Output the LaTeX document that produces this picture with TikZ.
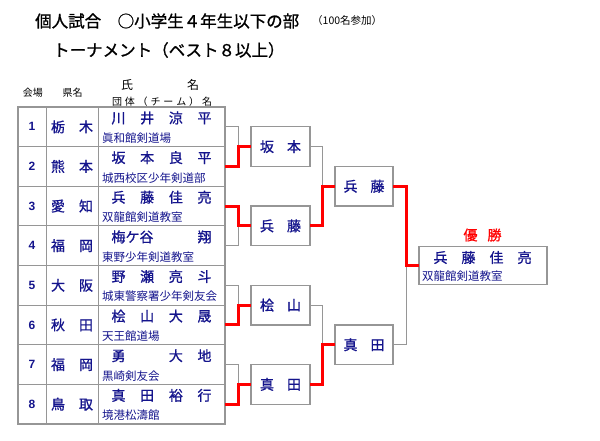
\documentclass[tikz,border=0pt]{standalone}
\usepackage{fontspec}
\setmainfont{Liberation Serif}
\newfontfamily\jp{Noto Sans CJK JP}
\newfontfamily\jpb[FakeBold=1]{Noto Sans CJK JP}
\newfontfamily\numf{Liberation Sans}
\definecolor{navy}{RGB}{20,20,140}
\definecolor{lg}{RGB}{150,150,150}
\definecolor{wred}{RGB}{255,0,0}
\newcommand\tblrow[6]{%
  \node[cell, minimum width=28pt] (c#1) at (18,#2) {};
  \node[cell, minimum width=52pt] (p#1) at (46,#2) {};
  \node[cell, minimum width=127pt] (n#1) at (98,#2) {};
  \node[numtxt] (k#1) at (c#1.center) {#1};
  \node[nmtxt] (pf#1) at (p#1.center) {\makebox[42pt]{#3\hfill #4}};
  \node[nmtxt] (nn#1) at (161.5,#2+11) {\makebox[100pt]{#5}};
  \node[tmtxt] (tt#1) at (102,#2+31) {#6};
}
\begin{document}
\begin{tikzpicture}[x=1pt,y=-1pt,
  cell/.style={draw=lg, line width=1pt, minimum height=39.625pt, inner sep=0pt, outer sep=0pt, anchor=north west},
  numtxt/.style={font=\numf\bfseries\fontsize{12}{12}\selectfont, text=navy, inner sep=0pt},
  nmtxt/.style={font=\jpb\fontsize{14}{14}\selectfont, text=navy, inner sep=0pt},
  tmtxt/.style={font=\jp\fontsize{11.5}{11.5}\selectfont, text=navy, inner sep=0pt, anchor=west},
  hdtxt/.style={font=\jp\fontsize{10}{10}\selectfont, inner sep=0pt},
  titletxt/.style={font=\jpb\fontsize{16.5}{16.5}\selectfont, inner sep=0pt, anchor=west},
  rbox/.style={draw=lg, line width=1.2pt, minimum width=59pt, minimum height=39.625pt, inner sep=0pt, outer sep=0pt},
  lose/.style={draw=lg, line width=1pt},
  win/.style={draw=wred, line width=3pt},
]
\useasboundingbox (0,0) rectangle (600,440);

% titles
\node[titletxt] (t1) at (35,21) {個人試合　○小学生４年生以下の部};
\node[font=\jp\fontsize{10.5}{10.5}\selectfont, inner sep=0pt, anchor=west] (t1b) at (312,21) {（100名参加）};
\node[titletxt] (t2) at (53,50) {トーナメント（ベスト８以上）};

% header
\node[hdtxt] (h1) at (33,93) {会場};
\node[hdtxt] (h2) at (72.5,93) {県名};
\node[font=\jp\fontsize{12}{12}\selectfont, inner sep=0pt] (h3) at (160,85) {\makebox[78pt]{氏\hfill 名}};
\node[hdtxt] (h4) at (162,101.5) {\makebox[100pt]{団\hfill 体\hfill （\hfill チ\hfill ー\hfill ム\hfill ）\hfill 名}};

% table
\tblrow{1}{107}{栃}{木}{川\hfill 井\hfill 涼\hfill 平}{眞和館剣道場}
\tblrow{2}{146.625}{熊}{本}{坂\hfill 本\hfill 良\hfill 平}{城西校区少年剣道部}
\tblrow{3}{186.25}{愛}{知}{兵\hfill 藤\hfill 佳\hfill 亮}{双龍館剣道教室}
\tblrow{4}{225.875}{福}{岡}{梅ケ谷\hfill 翔}{東野少年剣道教室}
\tblrow{5}{265.5}{大}{阪}{野\hfill 瀬\hfill 亮\hfill 斗}{城東警察署少年剣友会}
\tblrow{6}{305.125}{秋}{田}{桧\hfill 山\hfill 大\hfill 晟}{天王館道場}
\tblrow{7}{344.75}{福}{岡}{勇\hfill\hphantom{大}\hfill 大\hfill 地}{黒崎剣友会}
\tblrow{8}{384.375}{鳥}{取}{真\hfill 田\hfill 裕\hfill 行}{境港松濤館}
\draw[draw=lg, line width=1.6pt] (c1.north west) rectangle (n8.south east);

% round boxes
\node[rbox] (b1) at (280.5,146.625) {};
\node[rbox] (b2) at (280.5,225.875) {};
\node[rbox] (b3) at (280.5,305.125) {};
\node[rbox] (b4) at (280.5,384.375) {};
\node[rbox, minimum width=58pt] (s1) at (364,186.25) {};
\node[rbox, minimum width=58pt] (s2) at (364,344.75) {};
\node[rbox, minimum width=128pt, minimum height=38pt] (f) at (483,265.5) {};

% connectors: losers
\draw[lose] (n1.east) -- ++(13,0) |- (b1.west);
\draw[lose] (n4.east) -- ++(13,0) |- (b2.west);
\draw[lose] (n5.east) -- ++(13,0) |- (b3.west);
\draw[lose] (n7.east) -- ++(13,0) |- (b4.west);
\draw[lose] (b1.east) -- ++(12,0) |- (s1.west);
\draw[lose] (b3.east) -- ++(12,0) |- (s2.west);
\draw[lose] (s2.east) -- ++(13,0) |- (f.west);
% connectors: winners
\draw[win] (n2.east) -- ++(13,0) |- (b1.west);
\draw[win] (n3.east) -- ++(13,0) |- (b2.west);
\draw[win] (n6.east) -- ++(13,0) |- (b3.west);
\draw[win] (n8.east) -- ++(13,0) |- (b4.west);
\draw[win] (b2.east) -- ++(12,0) |- (s1.west);
\draw[win] (b4.east) -- ++(12,0) |- (s2.west);
\draw[win] (s1.east) -- ++(13,0) |- (f.west);

% box texts
\node[nmtxt] (bt1) at (b1.center) {\makebox[41pt]{坂\hfill 本}};
\node[nmtxt] (bt2) at (b2.center) {\makebox[41pt]{兵\hfill 藤}};
\node[nmtxt] (bt3) at (b3.center) {\makebox[41pt]{桧\hfill 山}};
\node[nmtxt] (bt4) at (b4.center) {\makebox[41pt]{真\hfill 田}};
\node[nmtxt] (st1) at (s1.center) {\makebox[41pt]{兵\hfill 藤}};
\node[nmtxt] (st2) at (s2.center) {\makebox[41pt]{真\hfill 田}};

% champion
\node[nmtxt, text=wred] (win) at (482.5,235) {\makebox[38pt]{優\hfill 勝}};
\node[nmtxt] (fn) at (482.5,257.5) {\makebox[98pt]{兵\hfill 藤\hfill 佳\hfill 亮}};
\node[tmtxt] (ft) at (422,276) {双龍館剣道教室};
\end{tikzpicture}
\end{document}
